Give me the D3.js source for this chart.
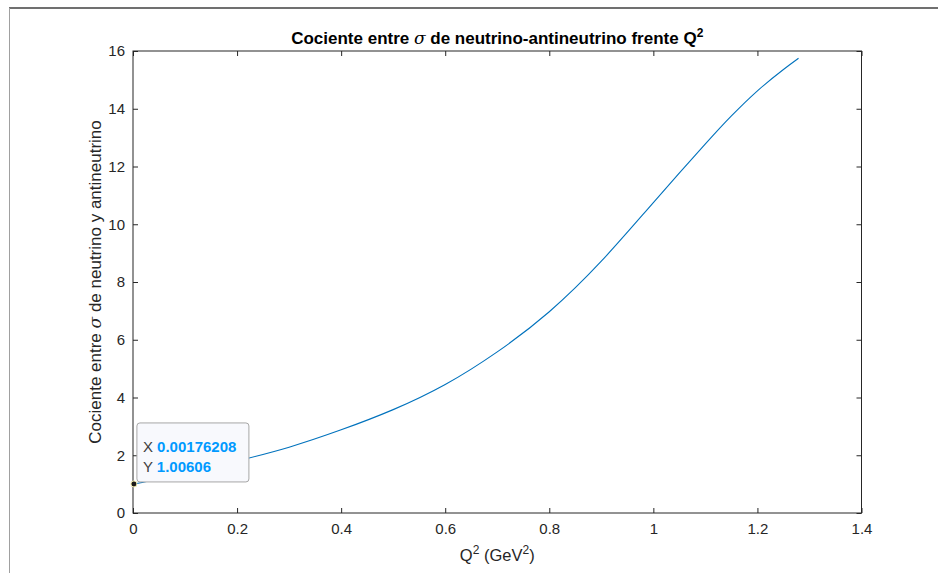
<!DOCTYPE html>
<html>
<head>
<meta charset="utf-8">
<script src="https://cdn.jsdelivr.net/npm/d3@7"></script>
<style>
  html, body { margin: 0; padding: 0; background: #ffffff; }
  svg { display: block; font-family: "Liberation Sans", Arial, sans-serif; }
</style>
</head>
<body>
<svg id="chart" width="938" height="573"></svg>
<script>
// Q^2 values (GeV^2) and the neutrino / antineutrino cross-section ratio
const q2 = [0.00176208, 0.1, 0.2, 0.3, 0.4, 0.5, 0.6, 0.7, 0.8, 0.9,
            1.0, 1.1, 1.15, 1.2, 1.25, 1.279];
const ratio = [1.00606, 1.37, 1.80, 2.28, 2.88, 3.58, 4.45, 5.58, 6.97, 8.72,
               10.75, 12.78, 13.75, 14.62, 15.36, 15.75];

const xTicks = [0, 0.2, 0.4, 0.6, 0.8, 1, 1.2, 1.4];
const yTicks = [0, 2, 4, 6, 8, 10, 12, 14, 16];
const xTickLabels = ["0", "0.2", "0.4", "0.6", "0.8", "1", "1.2", "1.4"];
const yTickLabels = ["0", "2", "4", "6", "8", "10", "12", "14", "16"];

// highlighted data point (data tip)
const tipX = 0.00176208;
const tipY = 1.00606;

const svg = d3.select("#chart");
const plotLeft = 133, plotRight = 861.5, plotTop = 51, plotBottom = 513;
const axisColor = "#262626";

const x = d3.scaleLinear().domain([0, 1.4]).range([plotLeft, plotRight]);
const y = d3.scaleLinear().domain([0, 16]).range([plotBottom, plotTop]);

// window frame lines
svg.append("line").attr("x1", 9).attr("x2", 938).attr("y1", 8).attr("y2", 8)
  .attr("stroke", "#404040").attr("stroke-width", 1.5);
svg.append("line").attr("x1", 9.5).attr("x2", 9.5).attr("y1", 8).attr("y2", 573)
  .attr("stroke", "#a0a0a0").attr("stroke-width", 1);

// axes: bottom/left with labels, top/right ticks only (box on, ticks inward)
const tickLen = 5;
const gx = svg.append("g").attr("transform", `translate(0,${plotBottom})`)
  .call(d3.axisBottom(x).tickValues(xTicks).tickSizeInner(-tickLen).tickSizeOuter(0)
    .tickPadding(10).tickFormat((d, i) => xTickLabels[i]));
const gy = svg.append("g").attr("transform", `translate(${plotLeft},0)`)
  .call(d3.axisLeft(y).tickValues(yTicks).tickSizeInner(-tickLen).tickSizeOuter(0)
    .tickPadding(8).tickFormat((d, i) => yTickLabels[i]));
const gxt = svg.append("g").attr("transform", `translate(0,${plotTop})`)
  .call(d3.axisTop(x).tickValues(xTicks).tickSizeInner(-tickLen).tickSizeOuter(0).tickFormat(""));
const gyr = svg.append("g").attr("transform", `translate(${plotRight},0)`)
  .call(d3.axisRight(y).tickValues(yTicks).tickSizeInner(-tickLen).tickSizeOuter(0).tickFormat(""));

[gx, gy, gxt, gyr].forEach(g => {
  g.select(".domain").remove();
  g.selectAll(".tick line").attr("stroke", axisColor);
  g.selectAll(".tick text").attr("fill", axisColor).attr("font-size", 15)
    .attr("font-family", "Liberation Sans, Arial, sans-serif");
});

// box
svg.append("rect").attr("x", plotLeft).attr("y", plotTop)
  .attr("width", plotRight - plotLeft).attr("height", plotBottom - plotTop)
  .attr("fill", "none").attr("stroke", axisColor).attr("stroke-width", 1);

// ratio curve
const line = d3.line().x((d, i) => x(q2[i])).y(d => y(d)).curve(d3.curveNatural);
svg.append("path").datum(ratio).attr("d", line)
  .attr("fill", "none").attr("stroke", "#0072BD").attr("stroke-width", 1.1);

// title
const title = svg.append("text").attr("x", (plotLeft + plotRight) / 2).attr("y", 44)
  .attr("text-anchor", "middle").attr("font-size", 17).attr("font-weight", "bold")
  .attr("fill", "#000");
title.append("tspan").text("Cociente entre ");
title.append("tspan").attr("font-style", "italic").attr("font-weight", "normal")
  .attr("font-family", "DejaVu Serif, serif").text("σ");
title.append("tspan").text(" de neutrino-antineutrino frente Q");
title.append("tspan").attr("dy", -7).attr("font-size", 12).text("2");

// x axis label
const xl = svg.append("text").attr("x", (plotLeft + plotRight) / 2).attr("y", 561)
  .attr("text-anchor", "middle").attr("font-size", 16.5).attr("fill", axisColor);
xl.append("tspan").text("Q");
xl.append("tspan").attr("dy", -7).attr("font-size", 12).text("2");
xl.append("tspan").attr("dy", 7).text(" (GeV");
xl.append("tspan").attr("dy", -7).attr("font-size", 12).text("2");
xl.append("tspan").attr("dy", 7).text(")");

// y axis label
const yl = svg.append("text")
  .attr("transform", `translate(101,${(plotTop + plotBottom) / 2}) rotate(-90)`)
  .attr("text-anchor", "middle").attr("font-size", 17).attr("fill", axisColor);
yl.append("tspan").text("Cociente entre ");
yl.append("tspan").attr("font-style", "italic").attr("font-family", "DejaVu Serif, serif").text("σ");
yl.append("tspan").text(" de neutrino y antineutrino");

// data tip
const px = x(tipX), py = y(tipY);
const tip = svg.append("g").attr("transform", `translate(${px},${py})`);
tip.append("rect").attr("x", 3).attr("y", -61).attr("width", 112).attr("height", 59)
  .attr("rx", 3).attr("fill", "#f8f9fd").attr("stroke", "#a6a6a6").attr("stroke-width", 1);
const tx = tip.append("text").attr("x", 9).attr("y", -32).attr("font-size", 15);
tx.append("tspan").attr("fill", "#404040").text("X ");
tx.append("tspan").attr("fill", "#0099ff").attr("font-weight", "bold").text(String(tipX));
const ty = tip.append("text").attr("x", 9).attr("y", -12).attr("font-size", 15);
ty.append("tspan").attr("fill", "#404040").text("Y ");
ty.append("tspan").attr("fill", "#0099ff").attr("font-weight", "bold").text(String(tipY));
tip.append("circle").attr("r", 3).attr("fill", "#1a1a1a")
  .attr("stroke", "#f5f0b0").attr("stroke-width", 1);
</script>
</body>
</html>
